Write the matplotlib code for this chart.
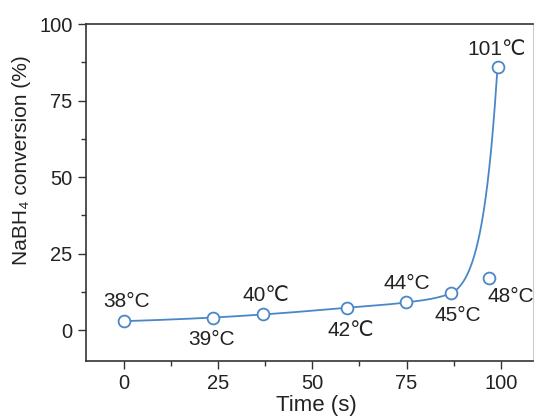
import numpy as np
import matplotlib
matplotlib.use("Agg")
import matplotlib.pyplot as plt
from matplotlib.ticker import MultipleLocator

plt.rcParams['font.family'] = ['Liberation Sans', 'DejaVu Sans']

# data on the fitted curve
time_s = [0, 23.8, 37.0, 59.2, 74.8, 86.7, 99.1]
conversion = [3.0, 4.2, 5.2, 7.4, 9.1, 12.1, 86.1]
temps = ["38°C", "39°C", "40℃", "42℃", "44°C", "45°C", "101℃"]
# off-curve point
extra_time = [96.9]
extra_conv = [17.2]
extra_label = ["48°C"]

color = "#4a87c8"


def pchip(x, y, xn):
    x = np.asarray(x, float); y = np.asarray(y, float)
    h = np.diff(x); d = np.diff(y) / h
    n = len(x); m = np.zeros(n)
    for k in range(1, n - 1):
        if d[k - 1] * d[k] > 0:
            w1 = 2 * h[k] + h[k - 1]; w2 = h[k] + 2 * h[k - 1]
            m[k] = (w1 + w2) / (w1 / d[k - 1] + w2 / d[k])
    def end(h0, h1, d0, d1):
        v = ((2 * h0 + h1) * d0 - h0 * d1) / (h0 + h1)
        if np.sign(v) != np.sign(d0):
            v = 0
        elif np.sign(d0) != np.sign(d1) and abs(v) > abs(3 * d0):
            v = 3 * d0
        return v
    m[0] = end(h[0], h[1], d[0], d[1])
    m[-1] = end(h[-1], h[-2], d[-1], d[-2])
    idx = np.clip(np.searchsorted(x, xn) - 1, 0, n - 2)
    t = (xn - x[idx]) / h[idx]
    h00 = 2 * t**3 - 3 * t**2 + 1; h10 = t**3 - 2 * t**2 + t
    h01 = -2 * t**3 + 3 * t**2; h11 = t**3 - t**2
    return h00 * y[idx] + h10 * h[idx] * m[idx] + h01 * y[idx + 1] + h11 * h[idx] * m[idx + 1]


fig = plt.figure(figsize=(5.37, 4.19), dpi=100)
ax = fig.add_axes([0.160, 0.1384, 0.8325, 0.8043])

xs = np.linspace(time_s[0], time_s[-1], 600)
ys = np.exp(pchip(time_s, np.log(conversion), xs))
ax.plot(xs, ys, color=color, lw=1.3, zorder=2)
ax.plot(time_s, conversion, 'o', ms=8.5, mfc='white', mec=color, mew=1.3, zorder=3)
ax.plot(extra_time, extra_conv, 'o', ms=8.5, mfc='white', mec=color, mew=1.3, zorder=3)

offsets = [(0.7, 6.3), (-0.5, -7.1), (0.8, 6.2), (1.1, -7.5), (0.2, 6.2), (1.8, -7.1), (-0.3, 5.5)]
for t, c, lab, (dx, dy) in zip(time_s, conversion, temps, offsets):
    ax.text(t + dx, c + dy, lab, ha='center', va='center', fontsize=15, color='#222222')
for t, c, lab in zip(extra_time, extra_conv, extra_label):
    ax.text(t + 5.7, c - 6.0, lab, ha='center', va='center', fontsize=15, color='#222222')

ax.set_xlim(-10, 108.5)
ax.set_ylim(-10, 100)
ax.xaxis.set_major_locator(MultipleLocator(25))
ax.xaxis.set_minor_locator(MultipleLocator(12.5))
ax.yaxis.set_major_locator(MultipleLocator(25))
ax.yaxis.set_minor_locator(MultipleLocator(12.5))
ax.tick_params(which='major', length=6, width=1, labelsize=14.5, color='#333333', labelcolor='#222222')
ax.tick_params(which='minor', length=3.5, width=1, color='#333333')
ax.set_xlim(-10, 108.5)
ax.set_ylim(-10, 100)
for s in ['left', 'top', 'bottom']:
    ax.spines[s].set_color('#333333')
    ax.spines[s].set_linewidth(1.2)
ax.spines['right'].set_color('#cccccc')

fig.text(316 / 537, 1 - 405 / 419, "Time (s)", ha='center', va='center', fontsize=16, color='#222222')
fig.text(22 / 537, 1 - 160 / 419, "NaBH₄ conversion (%)", ha='center', va='center',
         rotation=90, fontsize=15, color='#222222')

fig.savefig("out.png", dpi=100)
